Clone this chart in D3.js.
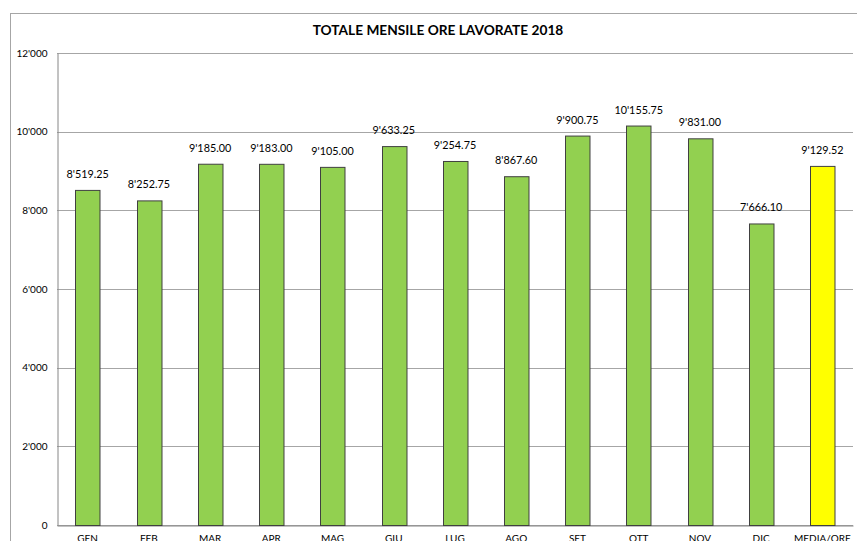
<!DOCTYPE html>
<html><head><meta charset="utf-8">
<script src="https://cdn.jsdelivr.net/npm/d3@7/dist/d3.min.js"></script>
<style>body{margin:0;background:#fff}svg{display:block;font-family:Lato,"Open Sans",sans-serif}</style>
</head><body>
<script>
const categories = ["GEN","FEB","MAR","APR","MAG","GIU","LUG","AGO","SET","OTT","NOV","DIC","MEDIA/ORE"];
const values = [8519.25,8252.75,9185.00,9183.00,9105.00,9633.25,9254.75,8867.60,9900.75,10155.75,9831.00,7666.10,9129.52];
const yTicks = [0,2000,4000,6000,8000,10000,12000];
const title = "TOTALE MENSILE ORE LAVORATE 2018";

const W=857,H=541;
const m={l:57,t:53,r:853,b:525};
const svg=d3.select("body").append("svg").attr("width",W).attr("height",H);
svg.append("rect").attr("x",10.5).attr("y",13.5).attr("width",900).attr("height",600)
  .attr("fill","none").attr("stroke","#a6a6a6");
const x=d3.scaleBand().domain(categories).range([m.l,m.r]).paddingInner(0.6).paddingOuter(0.3);
const y=d3.scaleLinear().domain([0,12000]).range([m.b,m.t]);
const fmt=v=>{const s=d3.format(",")(v);return s.replace(/,/g,"'");};
const fmt2=v=>d3.format(",.2f")(v).replace(/,/g,"'");

// grid
svg.append("g").selectAll("line").data(yTicks).join("line")
  .attr("x1",m.l).attr("x2",m.r).attr("y1",d=>Math.round(y(d))+0.5).attr("y2",d=>Math.round(y(d))+0.5)
  .attr("stroke","#a6a6a6").attr("stroke-width",1);
// y axis
const ya=svg.append("g").attr("transform",`translate(${m.l+0.5},0)`)
  .call(d3.axisLeft(y).tickValues(yTicks).tickFormat(fmt).tickSize(0).tickPadding(10));
ya.select(".domain").attr("stroke","#868686");
ya.selectAll("text").attr("font-size",10).attr("fill","#000").attr("font-family","Lato,sans-serif");
// x axis
const xa=svg.append("g").attr("transform",`translate(0,${m.b+0.5})`)
  .call(d3.axisBottom(x).tickSize(0).tickPadding(9));
xa.select(".domain").attr("stroke","#868686");
xa.selectAll("text").attr("font-size",10).attr("fill","#000").attr("font-family","Lato,sans-serif");

// bars
svg.append("g").selectAll("rect").data(values).join("rect")
  .attr("x",(d,i)=>Math.round(x(categories[i]))+0.5)
  .attr("y",d=>y(d)+0.5)
  .attr("width",x.bandwidth())
  .attr("height",d=>m.b-y(d))
  .attr("fill",(d,i)=>i===categories.length-1?"#ffff00":"#92d050")
  .attr("stroke","#404040").attr("stroke-width",1);
// labels
svg.append("g").selectAll("text").data(values).join("text")
  .attr("x",(d,i)=>x(categories[i])+x.bandwidth()/2)
  .attr("y",d=>y(d)-12)
  .attr("text-anchor","middle").attr("font-size",10.8).attr("fill","#000")
  .text(d=>fmt2(d));
// title
svg.append("text").attr("x",438).attr("y",35).attr("text-anchor","middle")
  .attr("font-size",13.7).attr("font-weight","bold").text(title);
</script>
</body></html>
